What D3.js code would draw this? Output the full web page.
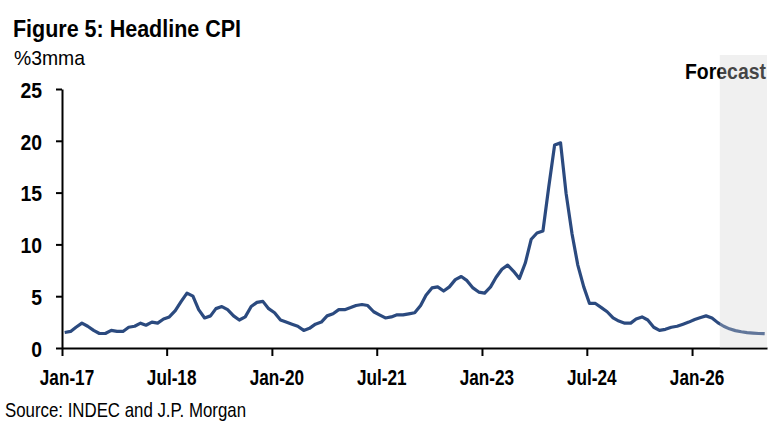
<!DOCTYPE html>
<html>
<head>
<meta charset="utf-8">
<script src="https://cdn.jsdelivr.net/npm/d3@7"></script>
<style>
  body { margin: 0; background: #fff; }
  svg { display: block; }
</style>
</head>
<body>
<script>
// Headline CPI, %3mma, monthly from Jan-17
const actual = [
    1.5, 1.6, 2.0, 2.4, 2.1, 1.7, 1.4, 1.4, 1.7, 1.6, 1.6, 2.0,   // 2017
    2.1, 2.4, 2.2, 2.5, 2.4, 2.8, 3.0, 3.6, 4.5, 5.3, 5.0, 3.7,   // 2018
    2.9, 3.1, 3.8, 4.0, 3.7, 3.1, 2.7, 3.0, 4.0, 4.4, 4.5, 3.8,   // 2019
    3.4, 2.7, 2.5, 2.3, 2.1, 1.7, 1.9, 2.3, 2.5, 3.1, 3.3, 3.7,   // 2020
    3.7, 3.9, 4.1, 4.2, 4.1, 3.5, 3.2, 2.9, 3.0, 3.2, 3.2, 3.3,   // 2021
    3.4, 4.1, 5.1, 5.8, 5.9, 5.5, 5.9, 6.6, 6.9, 6.5, 5.8, 5.4,   // 2022
    5.3, 5.9, 6.8, 7.6, 8.0, 7.4, 6.7, 8.2, 10.5, 11.1, 11.3, 15.5, // 2023
    19.6, 19.8, 14.9, 11.0, 8.0, 5.9, 4.3, 4.3, 3.9, 3.5, 2.9, 2.6, // 2024
    2.4, 2.4, 2.8, 3.0, 2.7, 2.0, 1.7, 1.8, 2.0, 2.1, 2.3, 2.5,   // 2025
    2.75, 2.95, 3.1, 2.9                                          // 2026
];
// May-26 .. Jan-27
const forecast = [2.45, 2.1, 1.85, 1.68, 1.57, 1.49, 1.44, 1.4, 1.38];

const xTicks = ["2017-01", "2018-07", "2020-01", "2021-07", "2023-01", "2024-07", "2026-01"];
const yTicks = [0, 5, 10, 15, 20, 25];
const forecastFrom = "2026-05-26";

const width = 780, height = 431;
const font = "'Liberation Sans', Arial, sans-serif";
const parseMonth = d3.timeParse("%Y-%m");

const series = actual.concat(forecast).map((v, i) => ({ date: new Date(2017, i, 15), value: v }));

const x = d3.scaleTime()
    .domain([new Date(2017, 0, 1), new Date(2027, 0, 27)])
    .range([62, 767]);

const y = d3.scaleLinear()
    .domain([0, 25])
    .range([348, 89]);

const svg = d3.select("body").append("svg")
    .attr("width", width)
    .attr("height", height)
    .style("font-family", font);

// squeeze Arial metrics down to a narrow face
function condense(sel, k) {
    sel.each(function () {
        const w = this.getComputedTextLength();
        d3.select(this).attr("textLength", w * k).attr("lengthAdjust", "spacingAndGlyphs");
    });
}

svg.append("text")
    .attr("x", 13).attr("y", 37)
    .style("font-size", "24px").style("font-weight", "bold")
    .attr("textLength", 228).attr("lengthAdjust", "spacingAndGlyphs")
    .text("Figure 5: Headline CPI");

svg.append("text")
    .attr("x", 14).attr("y", 65)
    .style("font-size", "21px")
    .attr("textLength", 71).attr("lengthAdjust", "spacingAndGlyphs")
    .text("%3mma");

// line
const line = d3.line()
    .x(d => x(d.date))
    .y(d => y(d.value));

svg.append("path")
    .datum(series)
    .attr("fill", "none")
    .attr("stroke", "#2b4a7f")
    .attr("stroke-width", 3.2)
    .attr("stroke-linejoin", "round")
    .attr("d", line);

// y axis
const yAxis = svg.append("g")
    .attr("transform", "translate(62,0)")
    .call(d3.axisLeft(y).tickValues(yTicks).tickSize(6).tickSizeOuter(0).tickPadding(14));
yAxis.select(".domain").attr("stroke", "#000").attr("stroke-width", 2);
yAxis.selectAll(".tick line").attr("stroke", "#000").attr("stroke-width", 2);
yAxis.selectAll(".tick text")
    .attr("fill", "#000")
    .attr("dy", "0.38em")
    .style("font-size", "22px").style("font-weight", "bold")
    .style("font-family", font);
condense(yAxis.selectAll(".tick text"), 0.88);

// x axis
const xAxis = svg.append("g")
    .attr("transform", "translate(0,348)")
    .call(d3.axisBottom(x)
        .tickValues(xTicks.map(parseMonth))
        .tickFormat(d3.timeFormat("%b-%y"))
        .tickSize(8).tickSizeOuter(0));
xAxis.select(".domain").attr("stroke", "#000").attr("stroke-width", 2);
xAxis.selectAll(".tick line").attr("stroke", "#000").attr("stroke-width", 2);
xAxis.selectAll(".tick text")
    .attr("fill", "#000")
    .attr("x", 4.5)
    .attr("y", 21)
    .style("font-size", "22px").style("font-weight", "bold")
    .style("font-family", font);
condense(xAxis.selectAll(".tick text"), 0.78);

svg.append("text")
    .attr("x", 766).attr("y", 79)
    .attr("text-anchor", "end")
    .style("font-size", "22px").style("font-weight", "bold")
    .attr("textLength", 81).attr("lengthAdjust", "spacingAndGlyphs")
    .text("Forecast");

// forecast shading sits over everything, greying what is under it
svg.append("rect")
    .attr("x", x(new Date(forecastFrom)))
    .attr("y", 55)
    .attr("width", x.range()[1] - x(new Date(forecastFrom)))
    .attr("height", y(0) - 55)
    .attr("fill", "rgb(210,210,210)")
    .attr("fill-opacity", 0.33);

svg.append("text")
    .attr("x", 5).attr("y", 417)
    .style("font-size", "21px")
    .attr("textLength", 241).attr("lengthAdjust", "spacingAndGlyphs")
    .text("Source: INDEC and J.P. Morgan");
</script>
</body>
</html>
